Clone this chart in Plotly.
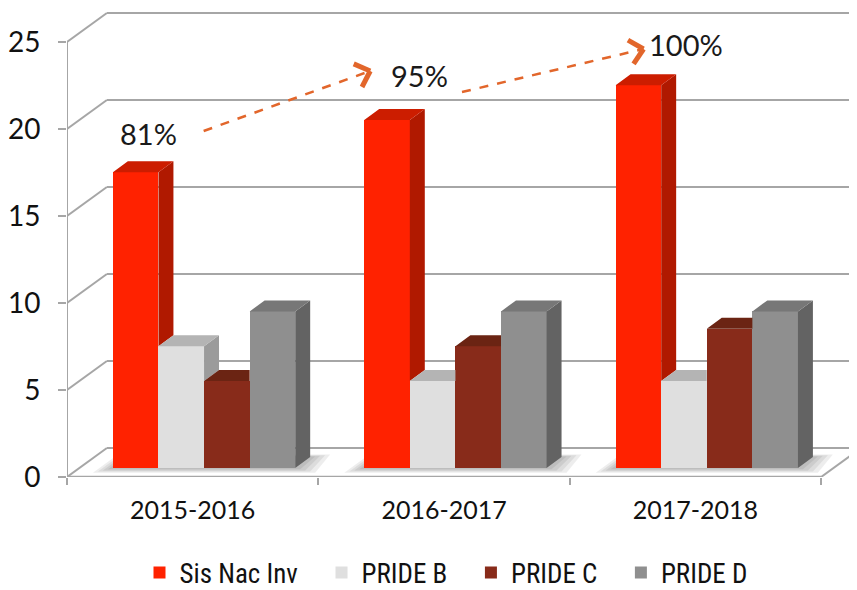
import plotly.graph_objects as go
import math

# ---------------- data ----------------
categories = ["2015-2016", "2016-2017", "2017-2018"]
series_names = ["Sis Nac Inv", "PRIDE B", "PRIDE C", "PRIDE D"]
sis_nac_inv = [17, 20, 22]
pride_b = [7, 5, 5]
pride_c = [5, 7, 8]
pride_d = [9, 9, 9]
pct_labels = ["81%", "95%", "100%"]
y_ticks = [0, 5, 10, 15, 20, 25]

series_values = [sis_nac_inv, pride_b, pride_c, pride_d]

# ---------------- styles ----------------
front_colors = ["#FF2200", "#DFDFDF", "#882B1A", "#8F8F8F"]
top_colors = ["#CC1D00", "#B4B4B4", "#6B2413", "#777777"]
side_colors = ["#B01900", "#9B9B9B", "#5C1E10", "#636363"]
grid_color = "#A6A6A6"
arrow_color = "#E2662B"
FONT = "Lato, 'Open Sans', sans-serif"
LEGEND_FONT = "'Liberation Sans Narrow', 'Roboto Condensed', 'DejaVu Sans Condensed', Roboto, sans-serif"
LEGEND_PAD = "\u00a0\u00a0\u00a0"  # extra spacing after legend entries

# screen geometry (page body has an 8px default margin)
OFF = 8
W, H = 857, 590
PX = 17.4            # pixels per value unit
X0 = 65              # front y-axis position (screen px)
FLOOR_Y = 477        # front floor edge (screen px)
TOP_Y = OFF          # top of plot area (screen px)
CAT_W = 252
BAR_OFF = 46
BAR_W = 45.7
D_DX = 15            # bar depth in px (x)
D_DY = 11 / PX       # bar depth in value units (y)
BACK_DX = 40
BACK_DY = 29 / PX
BAR_PLANE = 9 / PX   # bar front plane lift above the front floor edge
X_END = 821


def vy(py):
    return (FLOOR_Y - py) / PX


def clip(poly, f):
    out = []
    n = len(poly)
    for k in range(n):
        cur, prev = poly[k], poly[k - 1]
        fc, fp = f(cur), f(prev)
        if fc >= 0:
            if fp < 0:
                t = fp / (fp - fc)
                out.append((prev[0] + t * (cur[0] - prev[0]), prev[1] + t * (cur[1] - prev[1])))
            out.append(cur)
        elif fp >= 0:
            t = fp / (fp - fc)
            out.append((prev[0] + t * (cur[0] - prev[0]), prev[1] + t * (cur[1] - prev[1])))
    return out


fig = go.Figure()

# front faces as real bars
n_series = len(series_names)
for j, (name, vals) in enumerate(zip(series_names, series_values)):
    xs = [X0 + CAT_W * i + BAR_OFF + BAR_W * (j + 0.5) for i in range(len(categories))]
    fig.add_trace(go.Bar(
        x=xs, y=vals, width=BAR_W,
        name=name + (LEGEND_PAD if j < n_series - 1 else ""), yaxis="y2",
        marker=dict(color=front_colors[j], line=dict(width=0)),
        hovertext=[f"{name} {c}: {v}" for c, v in zip(categories, vals)], hoverinfo="text",
    ))

# 3D top and side faces
for j in range(n_series):
    tx, ty, sx, sy = [], [], [], []
    for i in range(len(categories)):
        h = series_values[j][i]
        x0 = X0 + CAT_W * i + BAR_OFF + BAR_W * j
        x1 = x0 + BAR_W
        top = [(x0, h), (x1, h), (x1 + D_DX, h + D_DY), (x0 + D_DX, h + D_DY)]
        side = [(x1, 0), (x1 + D_DX, D_DY), (x1 + D_DX, h + D_DY), (x1, h)]
        pieces_top, pieces_side = [], []
        if j < n_series - 1:
            h2 = series_values[j + 1][i]
            occ = lambda p, h2=h2, x1=x1: p[1] - (h2 + D_DY * (p[0] - x1) / D_DX)
            pieces_top.append(clip(top, lambda p, x1=x1: x1 - p[0]))
            pt = clip(top, lambda p, x1=x1: p[0] - x1)
            pieces_top.append(clip(pt, occ))
            pieces_side.append(clip(side, occ))
        else:
            pieces_top.append(top)
            pieces_side.append(side)
        for pc in pieces_top:
            if len(pc) >= 3:
                tx += [p[0] for p in pc] + [pc[0][0], None]
                ty += [p[1] for p in pc] + [pc[0][1], None]
        for pc in pieces_side:
            if len(pc) >= 3:
                sx += [p[0] for p in pc] + [pc[0][0], None]
                sy += [p[1] for p in pc] + [pc[0][1], None]
    fig.add_trace(go.Scatter(x=sx, y=sy, yaxis="y2", fill="toself", mode="lines",
                             line=dict(width=0), fillcolor=side_colors[j],
                             hoverinfo="skip", showlegend=False))
    fig.add_trace(go.Scatter(x=tx, y=ty, yaxis="y2", fill="toself", mode="lines",
                             line=dict(width=0), fillcolor=top_colors[j],
                             hoverinfo="skip", showlegend=False))

shapes = []
# soft shadows under each group
for i in range(len(categories)):
    xl = X0 + CAT_W * i + BAR_OFF
    xr = xl + BAR_W * n_series
    for k in range(1, 5):
        ex = 5 * k
        ey = 1.2 * k / PX
        path = (f"M{xl - ex},{-ey} L{xr + ex},{-ey} L{xr + D_DX + ex},{D_DY + ey * 0.5} "
                f"L{xl + D_DX - ex * 0.5},{D_DY + ey * 0.5} Z")
        shapes.append(dict(type="path", path=path, xref="x", yref="y2", layer="below",
                           fillcolor="rgba(0,0,0,0.07)", line=dict(width=0)))

# back wall gridlines and left wall diagonals
for v in y_ticks:
    shapes.append(dict(type="line", xref="x", yref="y", layer="below",
                       x0=X0 + BACK_DX, x1=W, y0=v + BACK_DY, y1=v + BACK_DY,
                       line=dict(color=grid_color, width=2)))
    shapes.append(dict(type="line", xref="x", yref="y", layer="below",
                       x0=X0, x1=X0 + BACK_DX, y0=v, y1=v + BACK_DY,
                       line=dict(color=grid_color, width=2)))
# front axis line
shapes.append(dict(type="line", xref="x", yref="y", layer="below",
                   x0=X0, x1=X0, y0=0, y1=y_ticks[-1],
                   line=dict(color=grid_color, width=2)))
# floor front and right edges
shapes.append(dict(type="line", xref="x", yref="y", layer="below",
                   x0=X0, x1=X_END, y0=0, y1=0, line=dict(color=grid_color, width=2.5)))
shapes.append(dict(type="line", xref="x", yref="y", layer="below",
                   x0=X_END, x1=W, y0=0, y1=(W - X_END) / BACK_DX * BACK_DY,
                   line=dict(color=grid_color, width=2)))

# dashed trend arrows (screen pixel positions)
arrows = [((202, 131), (369, 71)), ((461, 92), (643, 49))]
for (sx_, sy_), (ex_, ey_) in arrows:
    ang = math.atan2(ey_ - sy_, ex_ - sx_)
    shapes.append(dict(type="line", xref="x", yref="y", x0=sx_, y0=vy(sy_),
                       x1=ex_ - 3 * math.cos(ang), y1=vy(ey_ - 3 * math.sin(ang)),
                       line=dict(color=arrow_color, width=2.5, dash="dash")))
    L = 18
    for s in (1, -1):
        a = ang + math.pi - s * 0.75
        hx, hy = ex_ + L * math.cos(a), ey_ + L * math.sin(a)
        shapes.append(dict(type="line", xref="x", yref="y", x0=hx, y0=vy(hy), x1=ex_, y1=vy(ey_),
                           line=dict(color=arrow_color, width=5)))

annotations = []
pct_pos = [(147, 133), (418, 75), (686, 44)]
for txt, (px_, py_) in zip(pct_labels, pct_pos):
    annotations.append(dict(x=px_, y=vy(py_), xref="x", yref="y", text=txt, showarrow=False,
                            font=dict(family=FONT, size=29, color="#1A1A1A"),
                            xanchor="center", yanchor="middle"))

fig.update_layout(
    width=W - OFF, height=H - OFF,
    margin=dict(l=X0 - OFF, r=0, t=TOP_Y - OFF, b=H - FLOOR_Y),
    paper_bgcolor="white", plot_bgcolor="white",
    barmode="overlay", bargap=0,
    shapes=shapes, annotations=annotations,
    showlegend=True,
    legend=dict(orientation="h", xref="container", yref="container",
                x=(446 - OFF) / (W - OFF), xanchor="center",
                y=1 - (573 - OFF) / (H - OFF), yanchor="middle",
                borderwidth=0, bgcolor="rgba(0,0,0,0)",
                font=dict(family=LEGEND_FONT, size=27, color="#111111"),
                itemclick=False, itemdoubleclick=False),
    xaxis=dict(range=[X0, W], showgrid=False, zeroline=False, showline=False,
               tickmode="array", tickvals=[X0 + CAT_W * (i + 0.5) for i in range(len(categories))],
               ticktext=categories, ticks="", ticklabelstandoff=16,
               tickfont=dict(family=FONT, size=25, color="#111111"),
               minor=dict(tickmode="array", tickvals=[X0 + CAT_W * i for i in range(len(categories) + 1)],
                          ticks="outside", ticklen=7, tickwidth=2, tickcolor=grid_color, showgrid=False),
               fixedrange=True),
    yaxis=dict(range=[0, (FLOOR_Y - TOP_Y) / PX], showgrid=False, zeroline=False, showline=False,
               tickmode="array", tickvals=y_ticks, ticks="outside", ticklen=8, tickwidth=2,
               tickcolor=grid_color, ticklabelstandoff=12,
               tickfont=dict(family=FONT, size=28, color="#111111"), fixedrange=True),
    yaxis2=dict(range=[-BAR_PLANE, (FLOOR_Y - 9 - TOP_Y) / PX], overlaying="y", visible=False,
                fixedrange=True),
)

fig.write_html("out.html")
